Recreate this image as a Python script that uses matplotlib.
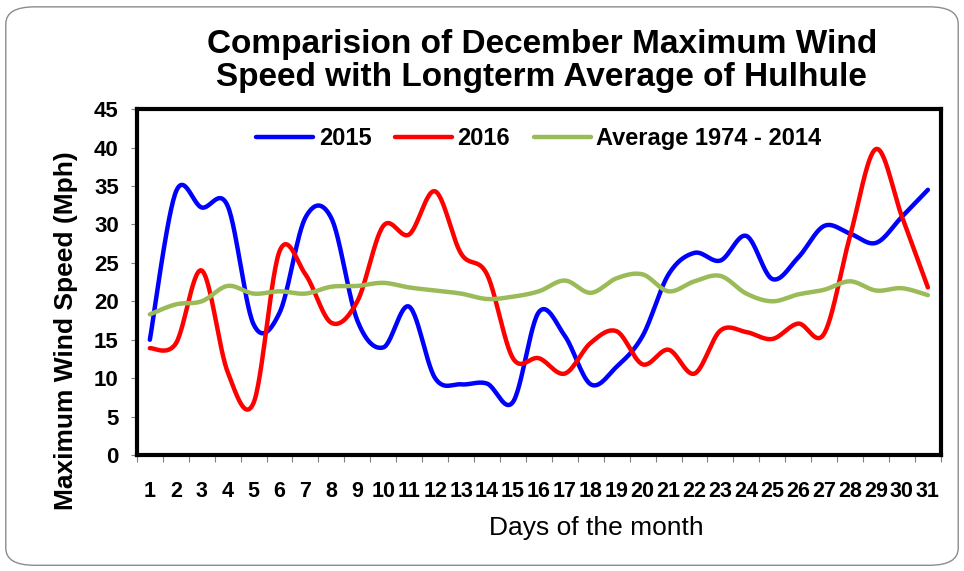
import numpy as np
import matplotlib.pyplot as plt
from matplotlib.patches import FancyBboxPatch

days = list(range(1, 32))
wind_2015 = [15.0, 34.2, 32.2, 32.4, 17.0, 18.5, 30.9, 30.8, 17.5, 14.0,
             19.3, 10.0, 9.2, 9.3, 6.9, 18.6, 15.5, 9.2, 11.5, 15.5,
             23.5, 26.3, 25.3, 28.5, 22.9, 25.7, 29.8, 28.8, 27.6, 31.0, 34.5]
wind_2016 = [13.9, 14.5, 24.0, 10.8, 6.8, 26.5, 23.5, 17.2, 20.0, 29.8,
             28.7, 34.3, 26.2, 23.5, 12.6, 12.6, 10.6, 14.6, 16.1, 11.8,
             13.7, 10.6, 16.2, 16.0, 15.1, 17.1, 15.8, 28.5, 39.8, 31.0, 21.8]
wind_avg = [18.3, 19.6, 20.0, 22.0, 21.0, 21.3, 21.0, 21.9, 22.0, 22.4,
            21.8, 21.4, 21.0, 20.3, 20.6, 21.3, 22.7, 21.1, 23.0, 23.5,
            21.3, 22.6, 23.3, 21.0, 20.0, 20.9, 21.5, 22.6, 21.4, 21.7, 20.8]
labels = ['2015', '2016', 'Average 1974 - 2014']
colors = ['#0000FF', '#FF0000', '#9BBB59']


def smooth(x, y, n=30):
    # Catmull-Rom style curve, like the smoothed lines of a spreadsheet chart
    x = np.asarray(x, float)
    y = np.asarray(y, float)
    xs, ys = [], []
    for i in range(len(x) - 1):
        x0, y0 = (x[i - 1], y[i - 1]) if i > 0 else (x[i], y[i])
        x3, y3 = (x[i + 2], y[i + 2]) if i + 2 < len(x) else (x[i + 1], y[i + 1])
        x1, y1, x2, y2 = x[i], y[i], x[i + 1], y[i + 1]
        c1x, c1y = x1 + (x2 - x0) / 6, y1 + (y2 - y0) / 6
        c2x, c2y = x2 - (x3 - x1) / 6, y2 - (y3 - y1) / 6
        t = np.linspace(0, 1, n)
        a, b, c, d = (1 - t) ** 3, 3 * t * (1 - t) ** 2, 3 * t ** 2 * (1 - t), t ** 3
        xs.append(a * x1 + b * c1x + c * c2x + d * x2)
        ys.append(a * y1 + b * c1y + c * c2y + d * y2)
    return np.concatenate(xs), np.concatenate(ys)


plt.rcParams['font.family'] = ['Liberation Sans', 'DejaVu Sans']

fig = plt.figure(figsize=(9.64, 5.71), dpi=100)
fig.patches.append(FancyBboxPatch((0.006, 0.01), 0.988, 0.978,
                                  boxstyle='round,pad=0,rounding_size=0.03',
                                  transform=fig.transFigure, fc='white',
                                  ec='#8c8c8c', lw=1.0, zorder=-1))

ax = fig.add_axes([0.142, 0.203, 0.834, 0.606])
for vals, lab, col in zip([wind_2015, wind_2016, wind_avg], labels, colors):
    sx, sy = smooth(days, vals)
    ax.plot(sx, sy, color=col, lw=3.2, label=lab, solid_capstyle='round')

ax.set_xlim(0.5, 31.5)
ax.set_ylim(0, 45)
ax.set_yticks(range(0, 46, 5))
ax.set_xticks(days)
ax.set_xticks(np.arange(0.5, 32, 1), minor=True)
ax.tick_params(axis='x', which='major', length=0, pad=19)
ax.tick_params(axis='x', which='minor', length=5, width=0.8, color='#808080', direction='out')
ax.tick_params(axis='y', length=4, width=0.8, color='#808080', direction='out', pad=9)
for t in ax.get_xticklabels():
    t.set_fontweight('bold')
    t.set_fontsize(15.5)
for t in ax.get_yticklabels():
    t.set_fontweight('bold')
    t.set_fontsize(16)
for sp in ax.spines.values():
    sp.set_linewidth(3)

ax.set_xlabel('Days of the month', fontsize=19)
ax.set_ylabel('Maximum Wind Speed (Mph)', fontsize=19, fontweight='bold')
ax.xaxis.set_label_coords(0.572, -0.175)
ax.yaxis.set_label_coords(-0.073, 0.36)
fig.suptitle('Comparision of December Maximum Wind\nSpeed with Longterm Average of Hulhule',
             x=0.562, y=0.95, fontsize=24, fontweight='bold', linespacing=1.1)

leg = ax.legend(loc='upper center', bbox_to_anchor=(0.5, 1.01), ncol=3, frameon=False,
                prop={'size': 17, 'weight': 'bold'}, handlelength=2.4,
                columnspacing=1.0, handletextpad=0.25)

fig.savefig('out.png', dpi=100)
